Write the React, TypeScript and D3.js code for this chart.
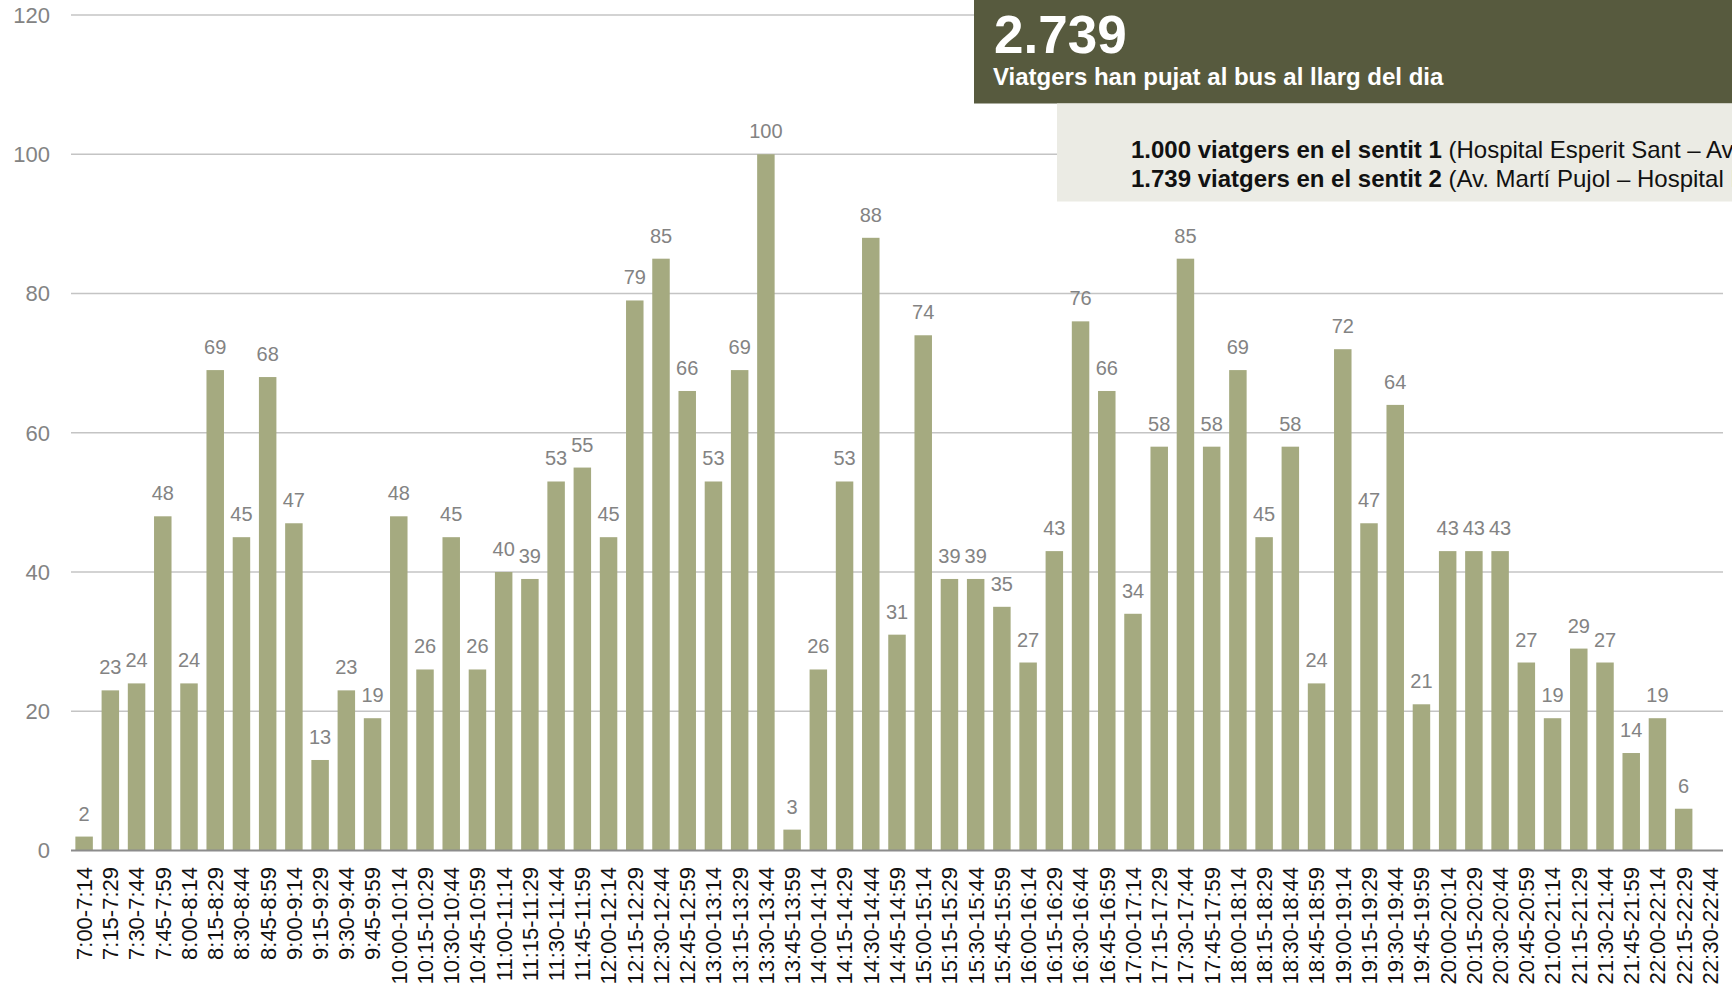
import React from 'react';
import * as d3 from 'd3';

const categories = [
  '7:00-7:14', '7:15-7:29', '7:30-7:44', '7:45-7:59',
  '8:00-8:14', '8:15-8:29', '8:30-8:44', '8:45-8:59',
  '9:00-9:14', '9:15-9:29', '9:30-9:44', '9:45-9:59',
  '10:00-10:14', '10:15-10:29', '10:30-10:44', '10:45-10:59',
  '11:00-11:14', '11:15-11:29', '11:30-11:44', '11:45-11:59',
  '12:00-12:14', '12:15-12:29', '12:30-12:44', '12:45-12:59',
  '13:00-13:14', '13:15-13:29', '13:30-13:44', '13:45-13:59',
  '14:00-14:14', '14:15-14:29', '14:30-14:44', '14:45-14:59',
  '15:00-15:14', '15:15-15:29', '15:30-15:44', '15:45-15:59',
  '16:00-16:14', '16:15-16:29', '16:30-16:44', '16:45-16:59',
  '17:00-17:14', '17:15-17:29', '17:30-17:44', '17:45-17:59',
  '18:00-18:14', '18:15-18:29', '18:30-18:44', '18:45-18:59',
  '19:00-19:14', '19:15-19:29', '19:30-19:44', '19:45-19:59',
  '20:00-20:14', '20:15-20:29', '20:30-20:44', '20:45-20:59',
  '21:00-21:14', '21:15-21:29', '21:30-21:44', '21:45-21:59',
  '22:00-22:14', '22:15-22:29', '22:30-22:44',
];

// passengers per quarter hour (last slot empty)
const passengers: (number | null)[] = [
  2, 23, 24, 48,
  24, 69, 45, 68,
  47, 13, 23, 19,
  48, 26, 45, 26,
  40, 39, 53, 55,
  45, 79, 85, 66,
  53, 69, 100, 3,
  26, 53, 88, 31,
  74, 39, 39, 35,
  27, 43, 76, 66,
  34, 58, 85, 58,
  69, 45, 58, 24,
  72, 47, 64, 21,
  43, 43, 43, 27,
  19, 29, 27, 14,
  19, 6, null,
];

const yTicks = [0, 20, 40, 60, 80, 100, 120];

const totalLabel = '2.739';
const totalSubtitle = 'Viatgers han pujat al bus al llarg del dia';
const directionBold = ['1.000 viatgers en el sentit 1', '1.739 viatgers en el sentit 2'];
const directionRoute = [' (Hospital Esperit Sant – Av. Martí Pujol)', ' (Av. Martí Pujol – Hospital Esperit Sant)'];

const W = 1732;
const H = 994;
const FONT = '"Liberation Sans", Arial, sans-serif';

export default function App() {
  const x = d3.scaleBand<string>().domain(categories).range([71, 1723]).padding(0);
  const y = d3.scaleLinear().domain([0, 120]).range([850.5, 15]);
  const bw = x.bandwidth() * 0.667;

  return (
    <svg
      width={W}
      height={H}
      style={{ position: 'absolute', left: 0, top: 0, overflow: 'hidden', background: '#fff' }}
      fontFamily={FONT}
    >
      {/* gridlines + y labels */}
      {yTicks.map(t => (
        <g key={t}>
          {t > 0 && (
            <line x1={71} x2={1723} y1={y(t)} y2={y(t)} stroke="#c4c4c4" strokeWidth={1.5} />
          )}
          <text x={50} y={y(t)} dy="0.36em" textAnchor="end" fontSize={22} fill="#838383">
            {t}
          </text>
        </g>
      ))}

      {/* bars */}
      {categories.map((c, i) => {
        const v = passengers[i];
        if (v == null) return null;
        const cx = (x(c) ?? 0) + x.bandwidth() / 2;
        return (
          <g key={c}>
            <rect x={cx - bw / 2} y={y(v)} width={bw} height={y(0) - y(v)} fill="#a5aa80" />
            <text x={cx} y={y(v) - 16} textAnchor="middle" fontSize={20} fill="#838383">
              {v}
            </text>
          </g>
        );
      })}

      {/* baseline */}
      <line x1={71} x2={1723} y1={y(0)} y2={y(0)} stroke="#8c8c8c" strokeWidth={2} />

      {/* x labels */}
      {categories.map(c => {
        const cx = (x(c) ?? 0) + x.bandwidth() / 2;
        return (
          <text
            key={c}
            transform={`translate(${cx},867) rotate(-90)`}
            textAnchor="end"
            dy="0.36em"
            fontSize={22}
            fill="#111"
          >
            {c}
          </text>
        );
      })}

      {/* total box */}
      <rect x={974} y={0} width={W - 974} height={103.5} fill="#575a3e" />
      <text x={994} y={53} fontSize={53} fontWeight="bold" fill="#fff">
        {totalLabel}
      </text>
      <text x={993} y={85} fontSize={24} fontWeight="bold" fill="#fff">
        {totalSubtitle}
      </text>

      {/* direction box, text runs past the right edge as in the source */}
      <rect x={1057} y={103.5} width={W - 1057} height={98} fill="#ebebe4" />
      {directionBold.map((b, i) => (
        <text key={b} x={1131} y={158 + i * 29} fontSize={24} fill="#111">
          <tspan fontWeight="bold">{b}</tspan>
          <tspan>{directionRoute[i]}</tspan>
        </text>
      ))}
    </svg>
  );
}
